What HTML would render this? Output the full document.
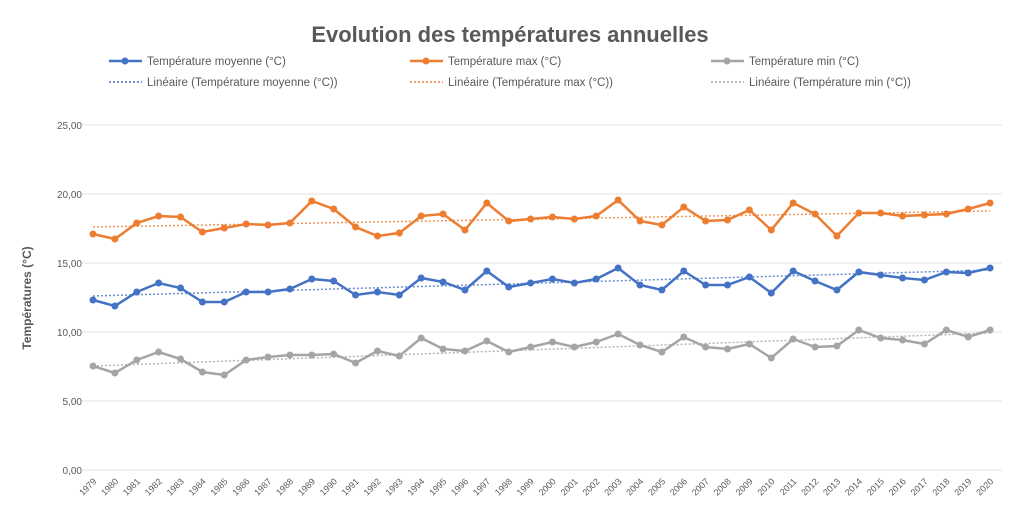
<!DOCTYPE html>
<html><head><meta charset="utf-8"><style>
body{margin:0;background:#fff;}
svg{display:block;font-family:"Liberation Sans",sans-serif;}
</style></head><body>
<svg width="1024" height="519" xmlns="http://www.w3.org/2000/svg" id="s">
<rect width="1024" height="519" fill="#fff"/>
<text x="510" y="42" text-anchor="middle" font-size="22" font-weight="bold" fill="#595959">Evolution des températures annuelles</text>
<g font-size="11.5" fill="#595959">
<line x1="109" y1="61" x2="142" y2="61" stroke="#4472c4" stroke-width="2.5"/><circle cx="125" cy="61" r="3.5" fill="#4472c4"/>
<text x="147" y="65">Température moyenne (°C)</text>
<line x1="410" y1="61" x2="443" y2="61" stroke="#ed7d31" stroke-width="2.5"/><circle cx="426" cy="61" r="3.5" fill="#ed7d31"/>
<text x="448" y="65">Température max (°C)</text>
<line x1="711" y1="61" x2="744" y2="61" stroke="#a5a5a5" stroke-width="2.5"/><circle cx="727" cy="61" r="3.5" fill="#a5a5a5"/>
<text x="749" y="65">Température min (°C)</text>
<line x1="109" y1="82" x2="142" y2="82" stroke="#4472c4" stroke-width="1.5" stroke-dasharray="2,2"/>
<text x="147" y="86">Linéaire (Température moyenne (°C))</text>
<line x1="410" y1="82" x2="443" y2="82" stroke="#ed7d31" stroke-width="1.5" stroke-dasharray="2,2"/>
<text x="448" y="86">Linéaire (Température max (°C))</text>
<line x1="711" y1="82" x2="744" y2="82" stroke="#a5a5a5" stroke-width="1.5" stroke-dasharray="2,2"/>
<text x="749" y="86">Linéaire (Température min (°C))</text>
</g>
<g id="grid" stroke="#e3e3e3" stroke-width="1"></g>
<g id="yl" font-size="10" fill="#595959" text-anchor="end"></g>
<text transform="translate(31,298) rotate(-90)" text-anchor="middle" font-size="12" font-weight="bold" fill="#595959">Températures (°C)</text>
<g id="xl" font-size="9" fill="#595959"></g>
<line x1="93" y1="296" x2="990" y2="270" stroke="#4472c4" stroke-width="1.5" stroke-dasharray="2,2" opacity="0.8"/>
<line x1="93" y1="227" x2="990" y2="211" stroke="#ed7d31" stroke-width="1.5" stroke-dasharray="2,2" opacity="0.8"/>
<line x1="93" y1="366" x2="990" y2="333" stroke="#a5a5a5" stroke-width="1.5" stroke-dasharray="2,2" opacity="0.8"/>
<g id="series"></g>
</svg>
<script>
var ns="http://www.w3.org/2000/svg";
function el(t,a,p,txt){var e=document.createElementNS(ns,t);for(var k in a)e.setAttribute(k,a[k]);if(txt)e.textContent=txt;document.getElementById(p).appendChild(e);return e;}
var ys=[470,401,332,263,194,125],lab=["0,00","5,00","10,00","15,00","20,00","25,00"];
for(var i=0;i<6;i++){el("line",{x1:82,x2:1002,y1:ys[i],y2:ys[i]},"grid");el("text",{x:82,y:ys[i]+4},"yl",lab[i]);}
for(var i=0;i<42;i++){var x=93+i*21.88;el("text",{transform:"translate("+(x+4)+",482) rotate(-45)","text-anchor":"end"},"xl",String(1979+i));}
var mean=[300,306,292,283,288,302,302,292,292,289,279,281,295,292,295,278,282,290,271,287,283,279,283,279,268,285,290,271,285,285,277,293,271,281,290,272,275,278,280,272,273,268];
var max=[234,239,223,216,217,232,228,224,225,223,201,209,227,236,233,216,214,230,203,221,219,217,219,216,200,221,225,207,221,220,210,230,203,214,236,213,213,216,215,214,209,203];
var min=[366,373,360,352,359,372,375,360,357,355,355,354,363,351,356,338,349,351,341,352,347,342,347,342,334,345,352,337,347,349,344,358,339,347,346,330,338,340,344,330,337,330];
[[max,"#ed7d31"],[mean,"#4472c4"],[min,"#a5a5a5"]].forEach(function(s){
var pts=s[0].map(function(y,i){return (93+i*21.88).toFixed(1)+","+y;}).join(" ");
el("polyline",{points:pts,fill:"none",stroke:s[1],"stroke-width":2.5},"series");
s[0].forEach(function(y,i){el("circle",{cx:93+i*21.88,cy:y,r:3.5,fill:s[1]},"series");});
});
</script>
</body></html>
